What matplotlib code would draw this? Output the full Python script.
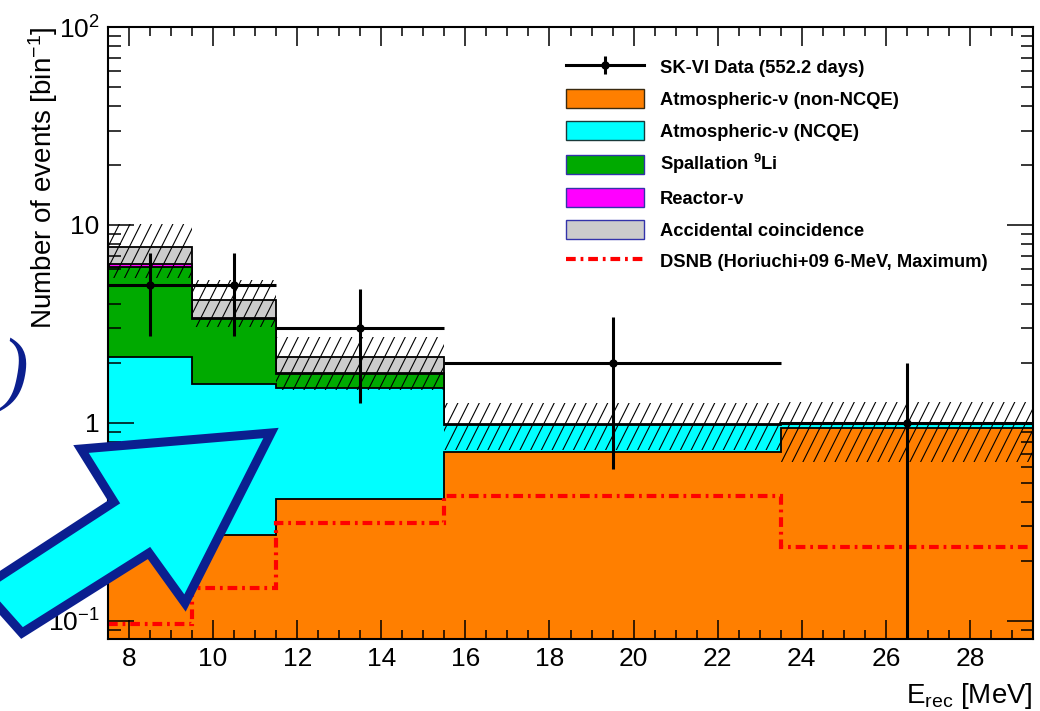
import numpy as np
import matplotlib
matplotlib.use("Agg")
import matplotlib.pyplot as plt
from matplotlib.patches import Polygon, Patch
from matplotlib.lines import Line2D
from matplotlib.collections import LineCollection
from matplotlib.ticker import FixedLocator, FixedFormatter, LogLocator, MultipleLocator, NullFormatter
from matplotlib.legend_handler import HandlerTuple

plt.rcParams['font.family'] = ['Liberation Sans', 'DejaVu Sans']
plt.rcParams['mathtext.fontset'] = 'custom'
plt.rcParams['mathtext.rm'] = 'Liberation Sans'
plt.rcParams['mathtext.it'] = 'Liberation Sans:italic'
plt.rcParams['mathtext.bf'] = 'Liberation Sans:bold'
plt.rcParams['lines.scale_dashes'] = False

# ---- data -------------------------------------------------------------
bin_edges = [7.5, 9.5, 11.5, 15.5, 23.5, 29.5]

atm_non_ncqe = [0.25, 0.272, 0.413, 0.714, 0.944]
atm_ncqe = [1.90, 1.30, 1.09, 0.263, 0.056]
spallation_li9 = [3.95, 1.79, 0.27, 0.0, 0.0]
reactor_nu = [0.22, 0.02, 0.01, 0.0, 0.0]
accidental = [1.40, 0.80, 0.37, 0.005, 0.0]

bkg_err_up = [2.38, 1.10, 0.57, 0.28, 0.28]
bkg_err_down = [2.32, 1.13, 0.68, 0.25, 0.365]

data_counts = [5, 5, 3, 2, 1]

dsnb_pred = [0.097, 0.147, 0.312, 0.428, 0.236]

xtick_values = [8, 10, 12, 14, 16, 18, 20, 22, 24, 26, 28]
ytick_values = [0.1, 1, 10, 100]
ytick_labels = [r'$10^{-1}$', '1', '10', r'$10^{2}$']

# ---- colours ----------------------------------------------------------
c_orange = '#ff7f00'
c_cyan = '#00ffff'
c_green = '#00aa00'
c_magenta = '#ff00ff'
c_grey = '#cccccc'
c_navy = '#0b1f8f'

W, H = 1040, 711
fig = plt.figure(figsize=(W / 100, H / 100), dpi=100)
ax_l, ax_r, ax_t, ax_b = 108, 1033, 27, 639
ax = fig.add_axes([ax_l / W, (H - ax_b) / H, (ax_r - ax_l) / W, (ax_b - ax_t) / H])
ax.set_yscale('log')
ax.set_xlim(bin_edges[0], bin_edges[-1])
ax.set_ylim(0.081, 100)

edges = np.array(bin_edges)
floor = 1e-4
layers = [
    (atm_non_ncqe, c_orange),
    (atm_ncqe, c_cyan),
    (spallation_li9, c_green),
    (reactor_nu, c_magenta),
    (accidental, c_grey),
]
cum = np.cumsum(np.array([l[0] for l in layers], dtype=float), axis=0)
# draw from the top of the stack downwards so lower layers sit in front
for i in range(len(layers) - 1, -1, -1):
    ax.stairs(cum[i], edges, baseline=floor, fill=True,
              facecolor=layers[i][1], edgecolor='black', linewidth=1.3, zorder=1)

total = cum[-1]
band_hi = total + np.array(bkg_err_up)
band_lo = total - np.array(bkg_err_down)
band = ax.stairs(band_hi, edges, baseline=band_lo, fill=True,
                 facecolor='none', edgecolor='none', linewidth=0, zorder=2)

# slanted hatch lines for the background uncertainty band
ax_w_px, ax_h_px = ax_r - ax_l, ax_b - ax_t
spacing = 10.7 / ax_w_px
run = (ax_h_px / 2.0) / ax_w_px
segs = []
x0 = -run - 0.02
while x0 < 1.02:
    segs.append([(x0, 0.0), (x0 + run, 1.0)])
    x0 += spacing
hatch = LineCollection(segs, colors='black', linewidths=0.8,
                       transform=ax.transAxes, zorder=2.5)
ax.add_collection(hatch)
hatch.set_clip_path(band)

# DSNB expectation
ax.stairs(dsnb_pred, edges, baseline=None, fill=False, color='#ff0000',
          linewidth=3.0, linestyle=(0, (7, 3.5, 2, 3.5)), zorder=3)

# data points
centers = 0.5 * (edges[:-1] + edges[1:])
half_w = 0.5 * np.diff(edges)
counts = np.array(data_counts, dtype=float)
err = np.sqrt(counts)
lo_err = np.minimum(err, counts - 1e-3)
ax.errorbar(centers, counts, xerr=half_w, yerr=[lo_err, err], fmt='o',
            color='black', ms=5, elinewidth=2.2, capsize=0, zorder=4)

# ---- axes styling -----------------------------------------------------
for s in ax.spines.values():
    s.set_linewidth(1.5)
    s.set_zorder(5)
ax.xaxis.set_major_locator(FixedLocator(xtick_values))
ax.xaxis.set_minor_locator(MultipleLocator(0.5))
ax.yaxis.set_major_locator(FixedLocator(ytick_values))
ax.yaxis.set_major_formatter(FixedFormatter(ytick_labels))
ax.yaxis.set_minor_locator(LogLocator(base=10, subs=np.arange(2, 10)))
ax.yaxis.set_minor_formatter(NullFormatter())
ax.tick_params(axis='both', which='both', direction='in', top=True, right=True,
               width=1.1, labelsize=19, colors='black')
ax.tick_params(axis='x', which='major', length=13.7, pad=6)
ax.tick_params(axis='x', which='minor', length=6.8)
ax.tick_params(axis='y', which='major', length=18.5, pad=6)
ax.tick_params(axis='y', which='minor', length=9)

ax.set_ylabel(r'Number of events [bin$^{-1}$]', fontsize=20, loc='top')
ax.yaxis.set_label_coords(-0.052, 1.0)
ax.set_xlabel(r'$\mathregular{E_{rec}}$ [MeV]', fontsize=20, loc='right')
ax.xaxis.set_label_coords(1.0, -0.069)

# ---- legend -----------------------------------------------------------
h_data = (Line2D([], [], color='black', lw=2.2, marker='o', ms=5),
          Line2D([], [], color='black', lw=0, marker='|', ms=13, mew=2.2))
handles = [
    h_data,
    Patch(facecolor=c_orange, edgecolor='#3a2a10', linewidth=1.0),
    Patch(facecolor=c_cyan, edgecolor='#1a3a3a', linewidth=1.0),
    Patch(facecolor=c_green, edgecolor='#3333aa', linewidth=1.0),
    Patch(facecolor=c_magenta, edgecolor='#3333aa', linewidth=1.0),
    Patch(facecolor=c_grey, edgecolor='#3333aa', linewidth=1.0),
    Line2D([], [], color='#ff0000', lw=3.0, linestyle=(0, (7, 3.5, 2, 3.5))),
]
labels = [
    'SK-VI Data (552.2 days)',
    'Atmospheric-ν (non-NCQE)',
    'Atmospheric-ν (NCQE)',
    r'Spallation $^{\mathbf{9}}$Li',
    'Reactor-ν',
    'Accidental coincidence',
    'DSNB (Horiuchi+09 6-MeV, Maximum)',
]
leg = fig.legend(handles, labels, loc='upper left',
                 bbox_to_anchor=(566 / W, 1 - 57.5 / H), bbox_transform=fig.transFigure,
                 frameon=False, borderpad=0, borderaxespad=0,
                 prop={'size': 13.2, 'weight': 'bold'},
                 handlelength=4.24, handleheight=1.25, handletextpad=0.9,
                 labelspacing=0.64, numpoints=1,
                 handler_map={tuple: HandlerTuple(ndivide=1)})

# ---- slide overlay: pointer arrow and bracket -------------------------
def fpt(x, y):
    return (x / W, 1 - y / H)

arrow_px = [(271, 433), (81, 449), (114, 502), (-18, 588), (22, 633),
            (149, 553), (185, 603)]
arrow = Polygon([fpt(x, y) for x, y in arrow_px], closed=True,
                transform=fig.transFigure, facecolor=c_cyan, edgecolor=c_navy,
                linewidth=6.5, joinstyle='miter', zorder=20, clip_on=False)
fig.add_artist(arrow)

fig.text(15 / W, 1 - 376 / H, ')', fontsize=60, family='Liberation Serif',
         style='italic', color=c_navy, ha='center', va='center', zorder=20)

fig.savefig('out.png', dpi=100)
